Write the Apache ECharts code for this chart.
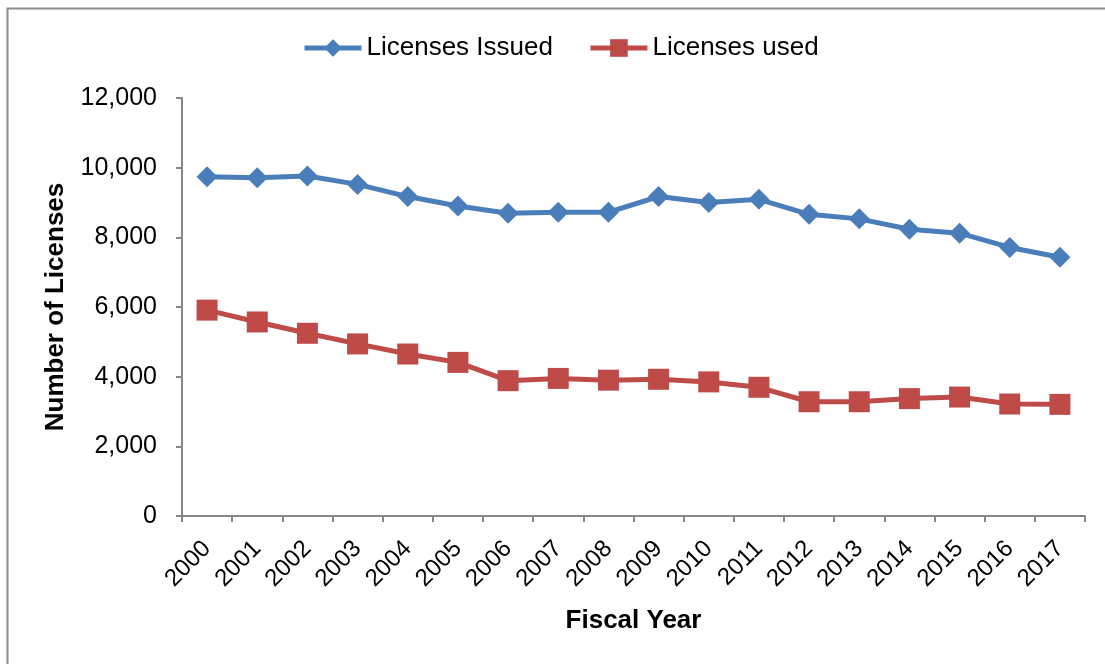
<!DOCTYPE html>
<html>
<head>
<meta charset="utf-8">
<script src="https://cdn.jsdelivr.net/npm/echarts@6/dist/echarts.min.js"></script>
<style>
html,body{margin:0;padding:0;background:#fff;}
#chart{width:1105px;height:664px;}
</style>
</head>
<body>
<div id="chart"></div>
<script>
const years = ['2000','2001','2002','2003','2004','2005','2006','2007','2008','2009','2010','2011','2012','2013','2014','2015','2016','2017'];
const licensesIssued = [9740, 9710, 9760, 9520, 9170, 8900, 8690, 8720, 8720, 9170, 9000, 9090, 8660, 8530, 8230, 8120, 7710, 7430];
const licensesUsed = [5910, 5570, 5245, 4940, 4650, 4410, 3885, 3950, 3900, 3925, 3850, 3695, 3280, 3280, 3370, 3415, 3215, 3205];
const yTicks = {min: 0, max: 12000, interval: 2000};

const chart = echarts.init(document.getElementById('chart'), null, {renderer: 'canvas'});
const font = 'Liberation Sans, Arial, sans-serif';
const axisColor = '#868686';
const blue = '#4A7EBB', red = '#BE4B48';
chart.setOption({
  animation: false,
  backgroundColor: '#fff',
  graphic: [{
    type: 'rect', left: 5, top: 6, z: -1,
    shape: {width: 1300, height: 900},
    style: {fill: 'none', stroke: '#8c8c8c', lineWidth: 2}
  }],
  grid: {left: 182, top: 98, right: 20, bottom: 148, containLabel: false},
  legend: {
    left: 297, top: 30,
    itemWidth: 57, itemHeight: 22, itemGap: 35,
    textStyle: {fontFamily: font, fontSize: 26, color: '#000'},
    data: [
      {name: 'Licenses Issued', lineStyle: {width: 5, color: blue}, itemStyle: {color: blue}},
      {name: 'Licenses used', lineStyle: {width: 5, color: red}, itemStyle: {color: red}}
    ]
  },
  xAxis: {
    type: 'category',
    data: years,
    boundaryGap: true,
    name: 'Fiscal Year',
    nameLocation: 'middle',
    nameGap: 92,
    nameTextStyle: {fontFamily: font, fontSize: 26, fontWeight: 'bold', color: '#000'},
    axisLine: {lineStyle: {color: axisColor, width: 2}},
    axisTick: {show: true, alignWithLabel: false, length: 6, lineStyle: {color: axisColor, width: 2}},
    axisLabel: {rotate: 45, margin: 29, fontFamily: font, fontSize: 24, color: '#000', interval: 0}
  },
  yAxis: {
    type: 'value',
    min: yTicks.min, max: yTicks.max, interval: yTicks.interval,
    name: 'Number of Licenses',
    nameLocation: 'middle',
    nameGap: 113,
    nameTextStyle: {fontFamily: font, fontSize: 26, fontWeight: 'bold', color: '#000'},
    splitLine: {show: false},
    axisLine: {show: true, lineStyle: {color: axisColor, width: 2}},
    axisTick: {show: true, length: 6, lineStyle: {color: axisColor, width: 2}},
    axisLabel: {
      margin: 25, fontFamily: font, fontSize: 25, color: '#000',
      formatter: v => v.toLocaleString('en-US')
    }
  },
  series: [
    {
      name: 'Licenses Issued', type: 'line', data: licensesIssued,
      symbol: 'diamond', symbolSize: 21,
      lineStyle: {color: blue, width: 5},
      itemStyle: {color: blue}
    },
    {
      name: 'Licenses used', type: 'line', data: licensesUsed,
      symbol: 'rect', symbolSize: 21,
      lineStyle: {color: red, width: 5},
      itemStyle: {color: red}
    }
  ]
});
</script>
</body>
</html>
